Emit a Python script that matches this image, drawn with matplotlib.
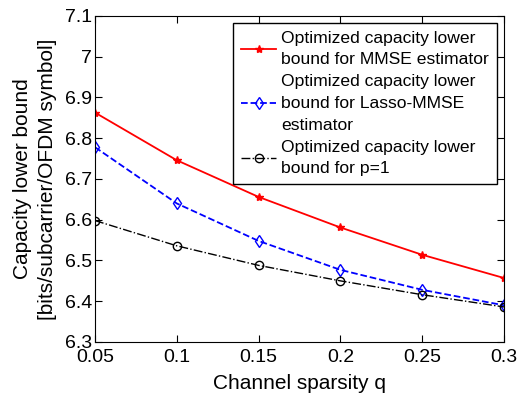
import matplotlib
matplotlib.use('Agg')
import matplotlib.pyplot as plt

# channel sparsity q
q = [0.05, 0.1, 0.15, 0.2, 0.25, 0.3]
# capacity lower bounds [bits/subcarrier/OFDM symbol]
mmse = [6.863, 6.746, 6.656, 6.581, 6.514, 6.457]
lasso = [6.778, 6.640, 6.548, 6.477, 6.428, 6.390]
p1 = [6.598, 6.536, 6.488, 6.450, 6.416, 6.386]

labels = ['Optimized capacity lower\nbound for MMSE estimator',
          'Optimized capacity lower\nbound for Lasso-MMSE\nestimator',
          'Optimized capacity lower\nbound for p=1']
xticks = [0.05, 0.1, 0.15, 0.2, 0.25, 0.3]
xticklabels = ['0.05', '0.1', '0.15', '0.2', '0.25', '0.3']
yticks = [6.3, 6.4, 6.5, 6.6, 6.7, 6.8, 6.9, 7.0, 7.1]
yticklabels = ['6.3', '6.4', '6.5', '6.6', '6.7', '6.8', '6.9', '7', '7.1']

plt.rcParams['font.family'] = ['Liberation Sans', 'DejaVu Sans']

fig = plt.figure(figsize=(5.23, 3.96), dpi=100)
ax = fig.add_axes([0.1816, 0.1364, 0.7821, 0.8232])

ax.plot(q, mmse, '-', color='red', marker='*', markersize=6, lw=1.3, label=labels[0])
ax.plot(q, lasso, '--', color='blue', marker='d', markersize=6, mfc='none', lw=1.3, label=labels[1])
ax.plot(q, p1, '-.', color='black', marker='o', markersize=6, mfc='none', lw=1.0, label=labels[2])

ax.set_xlim(0.05, 0.3)
ax.set_ylim(6.3, 7.1)
ax.set_xticks(xticks)
ax.set_xticklabels(xticklabels)
ax.set_yticks(yticks)
ax.set_yticklabels(yticklabels)
ax.tick_params(direction='in', top=True, right=True, labelsize=14, length=5)
ax.tick_params(axis='x', pad=5)
ax.tick_params(axis='y', pad=2)
ax.set_xlabel('Channel sparsity q', fontsize=15, labelpad=6)
ax.set_ylabel('Capacity lower bound\n[bits/subcarrier/OFDM symbol]', fontsize=15, labelpad=6,
              linespacing=1.35)

leg = ax.legend(loc='upper right', fontsize=12.6, fancybox=False, framealpha=1,
                edgecolor='black', handlelength=2.0, borderaxespad=0.4,
                labelspacing=0.4, handletextpad=0.3, borderpad=0.45)
for t in leg.get_texts():
    t.set_linespacing(1.55)
leg.get_frame().set_linewidth(1.0)

fig.savefig('out.png', dpi=100)
